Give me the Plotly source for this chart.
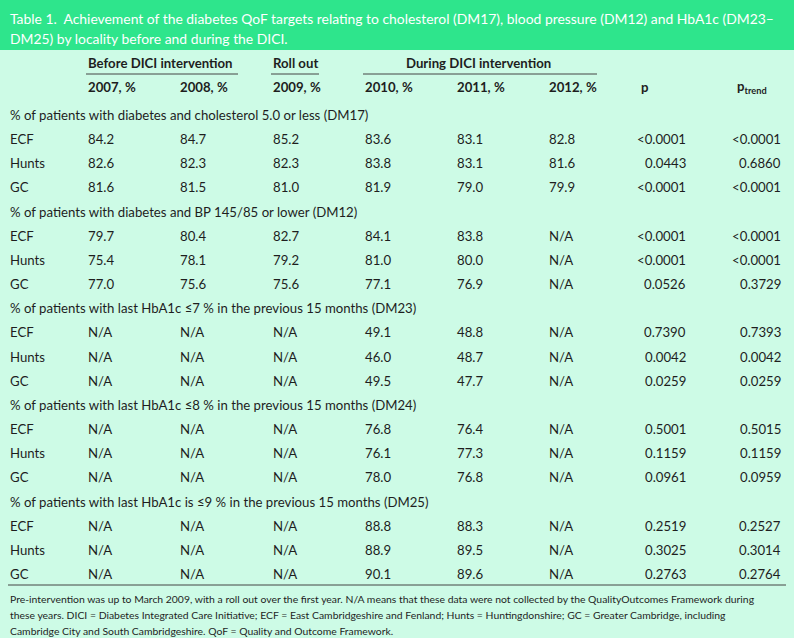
import plotly.graph_objects as go

W, H = 794, 638

title_lines = [
    "Table 1.  Achievement of the diabetes QoF targets relating to cholesterol (DM17), blood pressure (DM12) and HbA1c (DM23–",
    "DM25) by locality before and during the DICI.",
]
group_headers = ["Before DICI intervention", "Roll out", "During DICI intervention"]
col_headers = ["2007, %", "2008, %", "2009, %", "2010, %", "2011, %", "2012, %"]
sections = [
    "% of patients with diabetes and cholesterol 5.0 or less (DM17)",
    "% of patients with diabetes and BP 145/85 or lower (DM12)",
    "% of patients with last HbA1c ≤7 % in the previous 15 months (DM23)",
    "% of patients with last HbA1c ≤8 % in the previous 15 months (DM24)",
    "% of patients with last HbA1c is ≤9 % in the previous 15 months (DM25)",
]
localities = ["ECF", "Hunts", "GC"]
NA = "N/A"
v2007 = ["84.2", "82.6", "81.6", "79.7", "75.4", "77.0"] + [NA] * 9
v2008 = ["84.7", "82.3", "81.5", "80.4", "78.1", "75.6"] + [NA] * 9
v2009 = ["85.2", "82.3", "81.0", "82.7", "79.2", "75.6"] + [NA] * 9
v2010 = ["83.6", "83.8", "81.9", "84.1", "81.0", "77.1", "49.1", "46.0", "49.5",
         "76.8", "76.1", "78.0", "88.8", "88.9", "90.1"]
v2011 = ["83.1", "83.1", "79.0", "83.8", "80.0", "76.9", "48.8", "48.7", "47.7",
         "76.4", "77.3", "76.8", "88.3", "89.5", "89.6"]
v2012 = ["82.8", "81.6", "79.9"] + [NA] * 12
p_vals = ["<0.0001", "0.0443", "<0.0001", "<0.0001", "<0.0001", "0.0526",
          "0.7390", "0.0042", "0.0259", "0.5001", "0.1159", "0.0961",
          "0.2519", "0.3025", "0.2763"]
ptrend_vals = ["<0.0001", "0.6860", "<0.0001", "<0.0001", "<0.0001", "0.3729",
               "0.7393", "0.0042", "0.0259", "0.5015", "0.1159", "0.0959",
               "0.2527", "0.3014", "0.2764"]
footnote_lines = [
    "Pre-intervention was up to March 2009, with a roll out over the first year. N/A means that these data were not collected by the QualityOutcomes Framework during",
    "these years. DICI = Diabetes Integrated Care Initiative; ECF = East Cambridgeshire and Fenland; Hunts = Huntingdonshire; GC = Greater Cambridge, including",
    "Cambridge City and South Cambridgeshire. QoF = Quality and Outcome Framework.",
]

# ---- layout / style ----
FONT = "Lato, 'Open Sans', sans-serif"
TXT = "#1e1e1e"
GREEN = "#2ee58c"
MINT = "#cdfbe6"
col_x = [86, 178, 271, 363, 455, 547]
p_right, pt_right = 688, 783
p_left, pt_left = 639, 735
row0, dy = 115, 24.16
fs = 13.2

fig = go.Figure()
shapes = [
    dict(type="rect", x0=0, x1=W, y0=0, y1=50, fillcolor=GREEN, line_width=0, layer="below"),
    dict(type="rect", x0=0, x1=W, y0=50, y1=H, fillcolor=MINT, line_width=0, layer="below"),
    dict(type="line", x0=86, x1=238, y0=74, y1=74, line=dict(color="#444", width=1)),
    dict(type="line", x0=271, x1=319, y0=74, y1=74, line=dict(color="#444", width=1)),
    dict(type="line", x0=363, x1=597, y0=74, y1=74, line=dict(color="#444", width=1)),
    dict(type="line", x0=8, x1=786, y0=585, y1=585, line=dict(color="#444", width=1)),
]
ann = []

def txt(x, y, s, size=fs, anchor="left", color=TXT, bold=False):
    ann.append(dict(x=x, y=y, xref="x", yref="y", text=("<b>%s</b>" % s) if bold else s,
                    showarrow=False, xanchor=anchor, yanchor="middle",
                    font=dict(family=FONT, size=size, color=color)))

for i, line in enumerate(title_lines):
    txt(8, 18 + 20 * i, line, size=13.9, color="white")

txt(86, 63, group_headers[0], bold=True)
txt(271, 63, group_headers[1], bold=True)
txt(404, 63, group_headers[2], bold=True)
for i, h in enumerate(col_headers):
    txt(col_x[i], 87, h, bold=True)
txt(p_left, 87, "p", bold=True)
txt(pt_left, 87, "p<sub>trend</sub>", bold=True)

cols = [v2007, v2008, v2009, v2010, v2011, v2012]
r = 0
for s_i, sec in enumerate(sections):
    y = row0 + r * dy
    txt(8, y, sec)
    r += 1
    for l_i, loc in enumerate(localities):
        y = row0 + r * dy
        k = s_i * 3 + l_i
        txt(8, y, loc)
        for c_i, col in enumerate(cols):
            txt(col_x[c_i], y, col[k])
        txt(p_right, y, p_vals[k], anchor="right")
        txt(pt_right, y, ptrend_vals[k], anchor="right")
        r += 1

for i, line in enumerate(footnote_lines):
    txt(8, 599 + 16 * i, line, size=10.4)

fig.update_layout(
    width=W, height=H, margin=dict(l=0, r=0, t=0, b=0),
    paper_bgcolor=MINT, plot_bgcolor=MINT,
    xaxis=dict(range=[0, W], visible=False, fixedrange=True),
    yaxis=dict(range=[H, 0], visible=False, fixedrange=True),
    shapes=shapes, annotations=ann, showlegend=False,
)
fig.write_html("out.html", config={"displayModeBar": False},
               post_script="document.body.style.margin='0';document.body.style.overflow='hidden';")
